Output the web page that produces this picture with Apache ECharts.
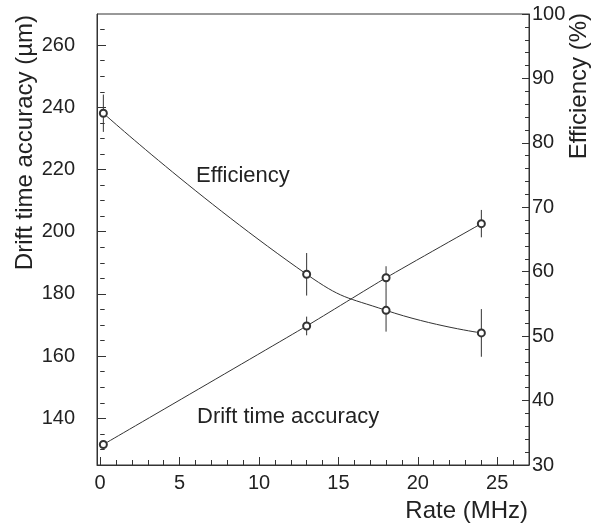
<!DOCTYPE html>
<html>
<head>
<meta charset="utf-8">
<script src="https://cdn.jsdelivr.net/npm/echarts@6/dist/echarts.min.js"></script>
<style>
  html, body { margin: 0; padding: 0; background: #fff; }
  #chart { width: 601px; height: 528px; }
</style>
</head>
<body>
<div id="chart"></div>
<script>
// rate (MHz) on x
const rate = [0.2, 13, 18, 24];
// efficiency (%) on the right axis
const efficiency = [84.6, 59.6, 54.0, 50.5];
const efficiencyErr = [2.9, 3.3, 3.3, 3.7];
// drift time accuracy (µm) on the left axis
const driftAccuracy = [131.6, 169.7, 185.2, 202.6];
const driftErr = [1.2, 3.0, 3.7, 4.4];

// tick labels / tick positions
const xLabels = [0, 5, 10, 15, 20, 25];
const xMinor = [1, 2, 3, 4, 6, 7, 8, 9, 11, 12, 13, 14, 16, 17, 18, 19, 21, 22, 23, 24, 26];
const leftLabels = [140, 160, 180, 200, 220, 240, 260];
const leftMinor = [125, 130, 135, 145, 150, 155, 165, 170, 175, 185, 190, 195, 205, 210, 215, 225, 230, 235, 245, 250, 255, 265];

const ink = '#333';
const txt = '#222';
const font = 'Liberation Sans, Arial, sans-serif';

const chart = echarts.init(document.getElementById('chart'));

function errorSeries(name, values, errs, yIdx) {
  return {
    name: name,
    type: 'custom',
    yAxisIndex: yIdx,
    z: 1,
    silent: true,
    data: rate.map((x, i) => [x, values[i] - errs[i], values[i] + errs[i]]),
    renderItem: function (params, api) {
      const lo = api.coord([api.value(0), api.value(1)]);
      const hi = api.coord([api.value(0), api.value(2)]);
      return {
        type: 'line',
        shape: { x1: lo[0], y1: lo[1], x2: hi[0], y2: hi[1] },
        style: { stroke: ink, lineWidth: 1 }
      };
    }
  };
}

const lineStyle = { color: ink, width: 1 };

chart.setOption({
  animation: false,
  backgroundColor: '#fff',
  grid: {
    left: 97, right: 72, top: 14, bottom: 63,
    show: true, borderColor: ink, borderWidth: 1, backgroundColor: 'transparent'
  },
  xAxis: [
    {
      type: 'value', min: -0.2, max: 27,
      splitLine: { show: false },
      axisLine: { onZero: false, lineStyle: { color: ink, width: 1 } },
      axisTick: { inside: true, length: 8, customValues: xLabels, lineStyle: { color: ink } },
      axisLabel: { customValues: xLabels, margin: 8, color: txt, fontSize: 20, fontFamily: font }
    },
    {
      type: 'value', min: -0.2, max: 27, position: 'bottom',
      splitLine: { show: false },
      axisLine: { show: false },
      axisTick: { inside: true, length: 5, customValues: xMinor, lineStyle: { color: ink } },
      axisLabel: { show: false }
    }
  ],
  yAxis: [
    {
      type: 'value', min: 125, max: 270, position: 'left',
      splitLine: { show: false },
      axisLine: { show: true, onZero: false, lineStyle: { color: ink, width: 1 } },
      axisTick: { inside: true, length: 9, customValues: leftLabels, lineStyle: { color: ink } },
      axisLabel: { customValues: leftLabels, margin: 22, color: txt, fontSize: 20, fontFamily: font }
    },
    {
      type: 'value', min: 30, max: 100, interval: 10, position: 'right',
      splitLine: { show: false },
      axisLine: { show: true, onZero: false, lineStyle: { color: ink, width: 1 } },
      axisTick: { inside: true, length: 7, lineStyle: { color: ink } },
      minorTick: { show: true, splitNumber: 5, length: 4, lineStyle: { color: ink } },
      axisLabel: { margin: 3, color: txt, fontSize: 20, fontFamily: font }
    },
    {
      type: 'value', min: 125, max: 270, position: 'left',
      splitLine: { show: false },
      axisLine: { show: false },
      axisTick: { inside: true, length: 4.5, customValues: leftMinor, lineStyle: { color: ink } },
      axisLabel: { show: false }
    }
  ],
  series: [
    errorSeries('effErr', efficiency, efficiencyErr, 1),
    errorSeries('driftErr', driftAccuracy, driftErr, 0),
    {
      name: 'Efficiency',
      type: 'line',
      yAxisIndex: 1,
      smooth: 0.5,
      data: rate.map((x, i) => [x, efficiency[i]]),
      symbol: 'emptyCircle',
      symbolSize: 7,
      lineStyle: lineStyle,
      itemStyle: { color: ink, borderColor: ink, borderWidth: 1 },
      z: 3
    },
    {
      name: 'Drift time accuracy',
      type: 'line',
      yAxisIndex: 0,
      smooth: 0.2,
      data: rate.map((x, i) => [x, driftAccuracy[i]]),
      symbol: 'emptyCircle',
      symbolSize: 7,
      lineStyle: lineStyle,
      itemStyle: { color: ink, borderColor: ink, borderWidth: 1 },
      z: 3
    }
  ],
  graphic: [
    {
      type: 'text', x: 25, y: 15, rotation: Math.PI / 2,
      style: { text: 'Drift time accuracy (µm)', fill: txt, font: '24px ' + font, textAlign: 'right', textVerticalAlign: 'middle' }
    },
    {
      type: 'text', x: 579, y: 13, rotation: Math.PI / 2,
      style: { text: 'Efficiency (%)', fill: txt, font: '24px ' + font, textAlign: 'right', textVerticalAlign: 'middle' }
    },
    {
      type: 'text', x: 528, y: 511,
      style: { text: 'Rate (MHz)', fill: txt, font: '24px ' + font, textAlign: 'right', textVerticalAlign: 'middle' }
    },
    {
      type: 'text', x: 196, y: 176,
      style: { text: 'Efficiency', fill: txt, font: '22px ' + font, textAlign: 'left', textVerticalAlign: 'middle' }
    },
    {
      type: 'text', x: 197, y: 417,
      style: { text: 'Drift time accuracy', fill: txt, font: '22px ' + font, textAlign: 'left', textVerticalAlign: 'middle' }
    }
  ]
});
</script>
</body>
</html>
